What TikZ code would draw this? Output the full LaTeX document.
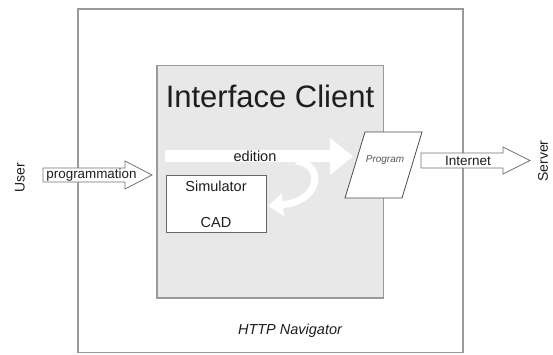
\documentclass[tikz,border=0pt]{standalone}
\usepackage{fontspec}
\setmainfont{Liberation Sans}
\usetikzlibrary{arrows.meta}
\definecolor{frameline}{HTML}{9A9A9A}
\definecolor{panelfill}{HTML}{E8E8E8}
\definecolor{inkgray}{HTML}{1E1E1E}
\tikzset{
  frame/.style={draw=frameline, line width=1.3pt},
  panel/.style={draw=frameline, fill=panelfill, line width=1.2pt},
  whitebox/.style={draw=black!60, fill=white, line width=0.8pt},
  blockarrow/.style={draw=black!55, fill=white, line width=0.8pt},
  lbl/.style={inner sep=0pt, text=inkgray},
}
\begin{document}
\begin{tikzpicture}[x=1pt,y=-1pt]
\useasboundingbox[fill=white] (0,0) rectangle (553,354);

% browser frame and client panel
\draw[frame] (78,9) rectangle (463,352.5);
\draw[panel] (157,65.5) rectangle (383.5,298);

\node[lbl, font=\fontsize{31}{31}\selectfont, anchor=base] (title) at (270,107) {Interface Client};
\node[lbl, font=\fontsize{14.5}{14.5}\selectfont\itshape, anchor=base] (nav) at (290,334) {HTTP Navigator};

% editing flow (white block arrow on the panel)
\fill[white] (165,150) -- (330,150) -- (330,138) -- (353,156.5) -- (330,175) -- (330,162) -- (165,162) -- cycle;
\node[lbl, font=\fontsize{14.5}{14.5}\selectfont, anchor=base] (edition) at (255,161.5) {edition};

% simulator / CAD box
\draw[whitebox] (166,175) rectangle (266,232);
\node[lbl, font=\fontsize{14.5}{14.5}\selectfont] (sim) at (216,186) {Simulator};
\node[lbl, font=\fontsize{14.5}{14.5}\selectfont] (cad) at (216,223) {CAD};

% loop back into the simulator
\draw[white, line width=7pt, -{Triangle[width=22pt,length=15pt]}]
  (296,161) .. controls (324,164) and (322,201) .. (268,206);

% program document
\draw[whitebox, draw=black!70] (365,132) -- (422,132) -- (402,198) -- (345,198) -- cycle;
\node[lbl, text=black!65, font=\fontsize{10}{10}\selectfont\itshape] (prog) at (385,160) {Program};

% user input arrow
\draw[blockarrow] (43,168) -- (125,168) -- (125,161) -- (152,175) -- (125,189) -- (125,182) -- (43,182) -- cycle;
\node[lbl, font=\fontsize{13.4}{13.4}\selectfont] (programmation) at (91.5,175.5) {programmation};

% internet arrow
\draw[blockarrow] (421,153) -- (503,153) -- (503,147) -- (530,160.5) -- (503,174) -- (503,168) -- (421,168) -- cycle;
\node[lbl, font=\fontsize{13.5}{13.5}\selectfont, anchor=base] (internet) at (468,165.5) {Internet};

% end points
\node[lbl, font=\fontsize{14}{14}\selectfont, rotate=90] (user) at (20,178) {User};
\node[lbl, font=\fontsize{14}{14}\selectfont, rotate=90] (server) at (543,161) {Server};
\end{tikzpicture}
\end{document}
